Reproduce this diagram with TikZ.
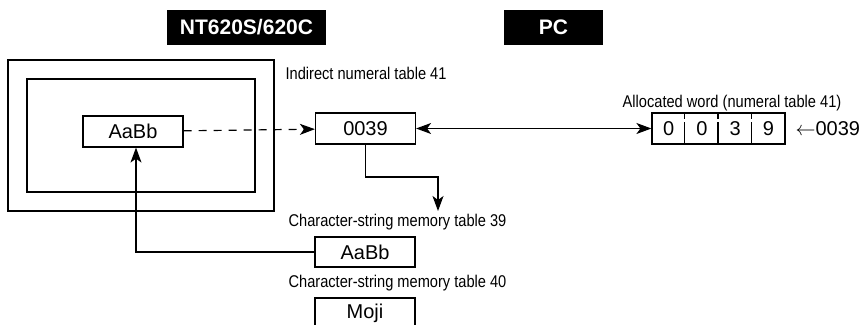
\documentclass[tikz,border=0pt]{standalone}
\usepackage{fontspec}
\setmainfont{Liberation Sans}
\newfontfamily\narrowfont[FakeStretch=0.86]{Liberation Sans}
\usetikzlibrary{arrows.meta, positioning}

\begin{document}
\begin{tikzpicture}[x=0.5pt, y=-0.5pt, line width=0.6pt,
    pointe/.tip={Stealth[length=7.5pt, width=5.5pt, inset=2pt]},
    titre/.style={fill=black, text=white, font=\fontsize{10.5}{12}\selectfont\bfseries,
      minimum height=17.5pt, inner sep=0pt},
    case/.style={draw, minimum width=50pt, minimum height=15.5pt, inner sep=0pt,
      font=\fontsize{10}{12}\selectfont},
    libelle/.style={font=\narrowfont\fontsize{8.5}{10}\selectfont, inner sep=0pt, anchor=west},
    chiffre/.style={font=\fontsize{10}{12}\selectfont, inner sep=0pt}]
    \clip (0,0) rectangle (861,325);

    % Titres
    \node[titre, minimum width=79.5pt] (nt) at (246.5,27.5) {NT620S/620C};
    \node[titre, minimum width=49.5pt] (pc) at (553.5,27.5) {PC};

    % Ecran
    \node[draw, minimum width=133pt, minimum height=75.5pt] (ecran) at (141,135.5) {};
    \node[draw, minimum width=114pt, minimum height=56.5pt] (fenetre) at (141,135.5) {};
    \node[case] (affiche) at (133,131.5) {AaBb};

    % Tables
    \node[libelle] (lib41) at (285,73) {Indirect numeral table 41};
    \node[case] (num) at (365.5,128.5) {0039};
    \node[libelle] (lib39) at (288,222) {Character-string memory table 39};
    \node[case, minimum height=15pt] (chaine) at (365,252) {AaBb};
    \node[libelle] (lib40) at (288,283) {Character-string memory table 40};
    \node[case] (moji) at (365,313.5) {Moji};

    % Mot alloue
    \node[libelle, anchor=center] (libmot) at (732,103) {Allocated word (numeral table 41)};
    \node[draw, minimum width=66.5pt, minimum height=15.5pt, inner sep=0pt] (mot) at (718.5,128.5) {};
    \foreach \c [count=\i] in {0,0,3,9}
      \node[chiffre] (c\i) at ({635.4+33.25*\i},128.5) {\c};
    \foreach \i in {1,2,3}
      \draw[dash pattern=on 3.5pt off 1.5pt on 12pt]
        ([xshift=\i*16.625pt]mot.north west) -- ([xshift=\i*16.625pt]mot.south west);
    \node[chiffre, anchor=west] (source) at (795,128.5) {$\leftarrow$0039};

    % Liaisons
    \coordinate (bas) at (438,211);
    \draw[-pointe, dash pattern=on 4pt off 3.5pt] (affiche) -- (num);
    \draw[pointe-pointe] (num) -- (mot);
    \draw[-pointe] (num.south) |- ([yshift=17pt]bas) -- (bas);
    \draw[-pointe] (chaine.west) -| ([xshift=1.5pt]affiche.south);
  \end{tikzpicture}
\end{document}
